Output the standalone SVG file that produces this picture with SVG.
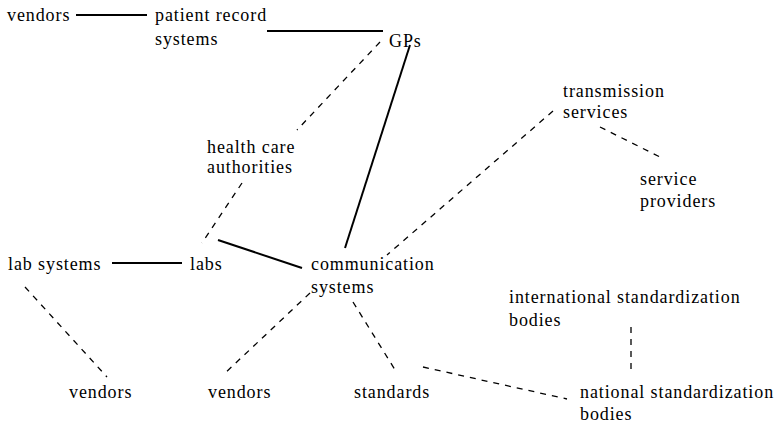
<svg xmlns="http://www.w3.org/2000/svg" width="775" height="426" viewBox="0 0 775 426">
  <style>
    text { font-family: "Liberation Serif", "Times New Roman", serif; font-size: 18px; letter-spacing: 0.9px; fill: #000; }
    .solid { stroke: #000; stroke-width: 2; fill: none; }
    .dash { stroke: #000; stroke-width: 1.3; stroke-dasharray: 6 6; fill: none; }
  </style>
  <rect width="775" height="426" fill="#fff"/>

  <g id="connectors">
    <line class="solid" x1="76" y1="15" x2="147" y2="15"/>
    <line class="solid" x1="267" y1="31" x2="383" y2="31"/>
    <line class="dash" x1="380" y1="42" x2="297" y2="130"/>
    <line class="solid" x1="410" y1="45" x2="345" y2="248"/>
    <line class="dash" x1="242" y1="183" x2="202" y2="243"/>
    <line class="solid" x1="218" y1="240" x2="302" y2="268"/>
    <line class="solid" x1="112" y1="263" x2="182" y2="263"/>
    <line class="dash" x1="553" y1="111" x2="387" y2="255"/>
    <line class="dash" x1="600" y1="127" x2="660" y2="157"/>
    <line class="dash" x1="25" y1="287" x2="107" y2="377"/>
    <line class="dash" x1="310" y1="293" x2="223" y2="375"/>
    <line class="dash" x1="353" y1="302" x2="397" y2="373"/>
    <line class="dash" x1="423" y1="367" x2="567" y2="399"/>
    <line class="dash" x1="631" y1="327" x2="631" y2="373"/>
  </g>

  <g id="vendors-top"><text x="7" y="21">vendors</text></g>
  <g id="patient-record-systems">
    <text x="155" y="21">patient record</text>
    <text x="155" y="45">systems</text>
  </g>
  <g id="gps"><text x="389" y="47">GPs</text></g>
  <g id="health-care-authorities">
    <text x="207" y="153">health care</text>
    <text x="207" y="173">authorities</text>
  </g>
  <g id="transmission-services">
    <text x="563" y="97">transmission</text>
    <text x="563" y="118">services</text>
  </g>
  <g id="service-providers">
    <text x="640" y="185">service</text>
    <text x="640" y="207">providers</text>
  </g>
  <g id="lab-systems"><text x="8" y="270">lab systems</text></g>
  <g id="labs"><text x="190" y="270">labs</text></g>
  <g id="communication-systems">
    <text x="311" y="270">communication</text>
    <text x="311" y="293">systems</text>
  </g>
  <g id="international-standardization-bodies">
    <text x="509" y="303">international standardization</text>
    <text x="509" y="326">bodies</text>
  </g>
  <g id="vendors-lab"><text x="69" y="398">vendors</text></g>
  <g id="vendors-comm"><text x="208" y="398">vendors</text></g>
  <g id="standards"><text x="354" y="398">standards</text></g>
  <g id="national-standardization-bodies">
    <text x="580" y="398">national standardization</text>
    <text x="580" y="420">bodies</text>
  </g>
</svg>
